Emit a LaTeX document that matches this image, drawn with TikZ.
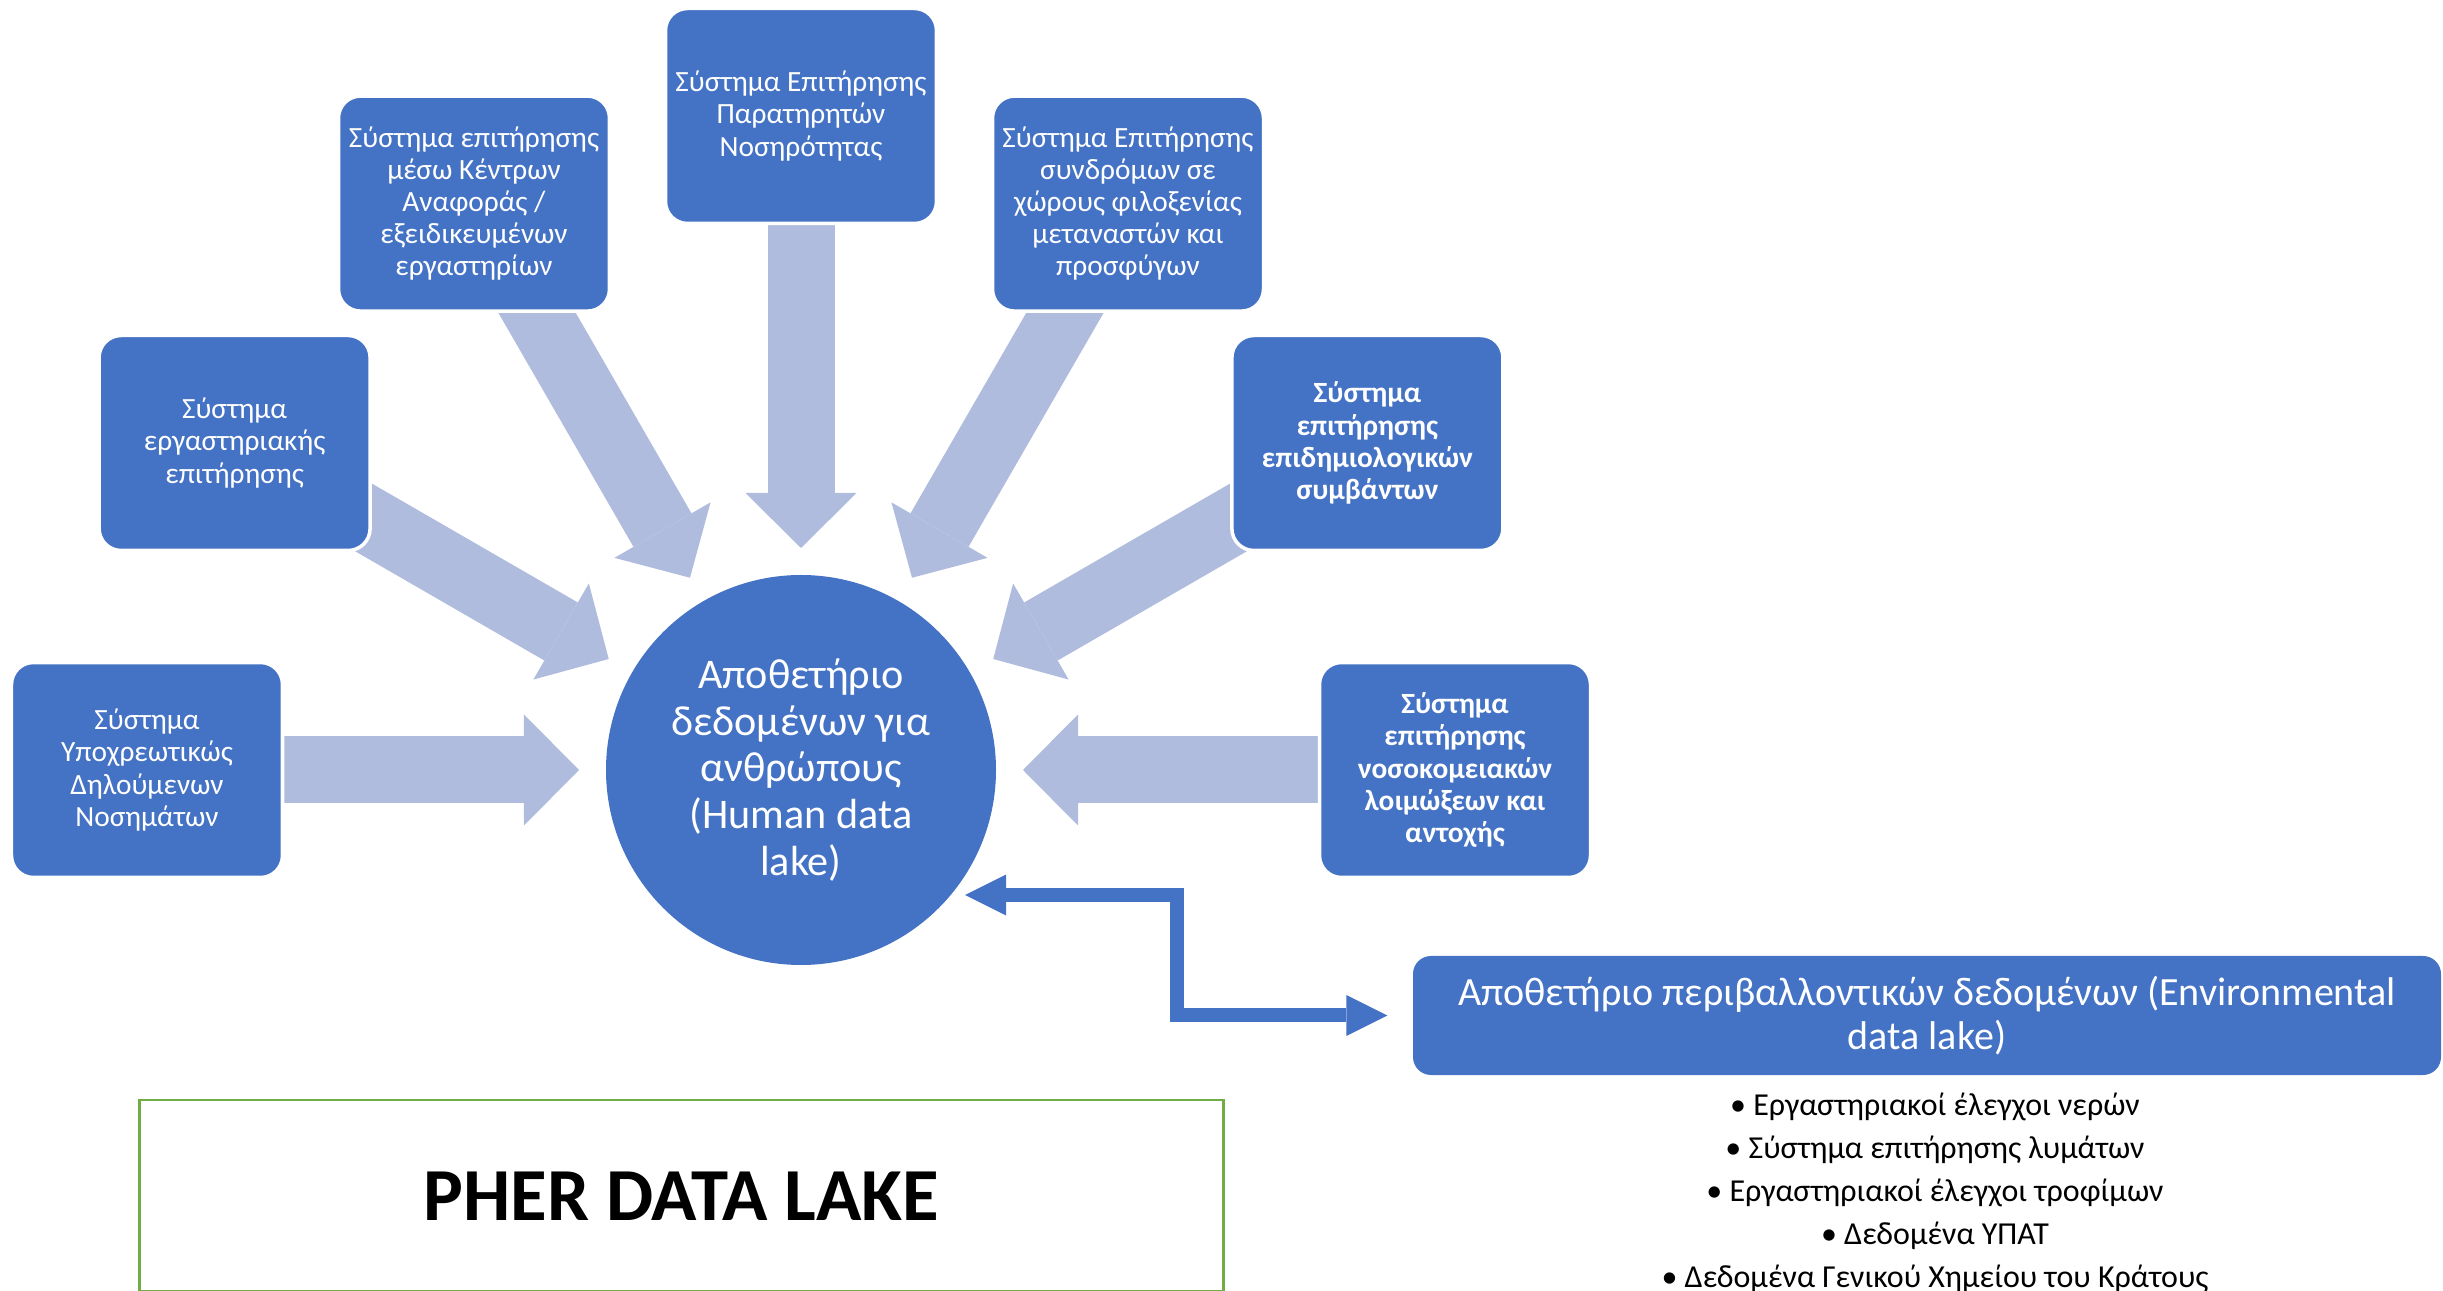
\documentclass[tikz,border=0pt]{standalone}
\usepackage{fontspec}
\setmainfont{Carlito}
\usepackage{tikz}
\usetikzlibrary{arrows.meta, positioning, backgrounds, calc}
\definecolor{boxblue}{HTML}{4472C4}
\definecolor{flowblue}{HTML}{AFBCDE}
\definecolor{lakegreen}{HTML}{70AD47}

\begin{document}
\begin{tikzpicture}[sys/.style={rounded corners=2.2mm, minimum width=2.71cm,
                                minimum height=2.15cm, fill=boxblue, draw=white,
                                line width=1pt, text=white, align=center, inner sep=0.5mm,
                                font=\fontsize{8.35}{9.15}\selectfont},
                    sysbold/.style={sys, font=\fontsize{8.35}{9.15}\selectfont\bfseries},
                    lake/.style={circle, minimum size=3.9cm, fill=boxblue, text=white,
                                 align=center, font=\fontsize{12}{13.3}\selectfont},
                    flow/.style={line width=6.7mm, flowblue,
                                 -{Triangle[length=5.5mm, width=11.1mm, line width=0pt]}},
                    link/.style={line width=1.4mm, boxblue,
                                 {Triangle[length=4.1mm, width=4.1mm, line width=0pt]}-{Triangle[length=4.1mm, width=4.1mm, line width=0pt]}},
                    node distance=1cm]
    \useasboundingbox (-8.01,7.70) rectangle (16.42,-5.21);

    % human data lake
    \node[lake] (hub) at (0,0) {Αποθετήριο\\δεδομένων για\\ανθρώπους\\(Human data\\lake)};

    % surveillance systems
    \node[sys] (sys1) at (180:6.54) {Σύστημα\\Υποχρεωτικώς\\Δηλούμενων\\Νοσημάτων};
    \node[sys] (sys2) at (150:6.54) {Σύστημα\\εργαστηριακής\\επιτήρησης};
    \node[sys] (sys3) at (120:6.54) {Σύστημα επιτήρησης\\μέσω Κέντρων\\Αναφοράς /\\εξειδικευμένων\\εργαστηρίων};
    \node[sys] (sys4) at (90:6.54) {Σύστημα Επιτήρησης\\Παρατηρητών\\Νοσηρότητας};
    \node[sys] (sys5) at (60:6.54) {Σύστημα Επιτήρησης\\συνδρόμων σε\\χώρους φιλοξενίας\\μεταναστών και\\προσφύγων};
    \node[sysbold] (sys6) at (30:6.54) {Σύστημα\\επιτήρησης\\επιδημιολογικών\\συμβάντων};
    \node[sysbold] (sys7) at (0:6.54) {Σύστημα\\επιτήρησης\\νοσοκομειακών\\λοιμώξεων και\\αντοχής};

    % arrow tips round the lake
    \coordinate (t1) at (180:2.22);
    \coordinate (t2) at (150:2.22);
    \coordinate (t3) at (120:2.22);
    \coordinate (t4) at (90:2.22);
    \coordinate (t5) at (60:2.22);
    \coordinate (t6) at (30:2.22);
    \coordinate (t7) at (0:2.22);

    \begin{scope}[on background layer]
    \path
        (sys1.center) edge[flow] (t1)
        (sys2.center) edge[flow] (t2)
        (sys3.center) edge[flow] (t3)
        (sys4.center) edge[flow] (t4)
        (sys5.center) edge[flow] (t5)
        (sys6.center) edge[flow] (t6)
        (sys7.center) edge[flow] (t7)
        ;
    \end{scope}

    % environmental data lake
    \node[rounded corners=1.8mm, minimum width=10.28cm, minimum height=1.19cm,
          fill=boxblue, text=white, align=center,
          font=\fontsize{11.4}{12.6}\selectfont] (env) at (11.26,-2.455)
          {Αποθετήριο περιβαλλοντικών δεδομένων (Environmental\\data lake)};
    \node[below=0.5mm of env, xshift=0.08cm, align=center,
          font=\fontsize{9.1}{12.2}\selectfont] (sources)
          {• Εργαστηριακοί έλεγχοι νερών\\• Σύστημα επιτήρησης λυμάτων\\• Εργαστηριακοί έλεγχοι τροφίμων\\• Δεδομένα ΥΠΑΤ\\• Δεδομένα Γενικού Χημείου του Κράτους};

    \coordinate (hubport) at (1.64,-1.25);
    \draw[link] (hubport) -- ++(2.12,0) |- ([xshift=-2.5mm]env.west);

    % title
    \node[draw=lakegreen, line width=0.85pt, minimum width=10.83cm,
          minimum height=1.915cm, font=\fontsize{21.3}{25}\selectfont\bfseries]
          (pher) at (-1.195,-4.2575) {PHER DATA LAKE};
\end{tikzpicture}
\end{document}
